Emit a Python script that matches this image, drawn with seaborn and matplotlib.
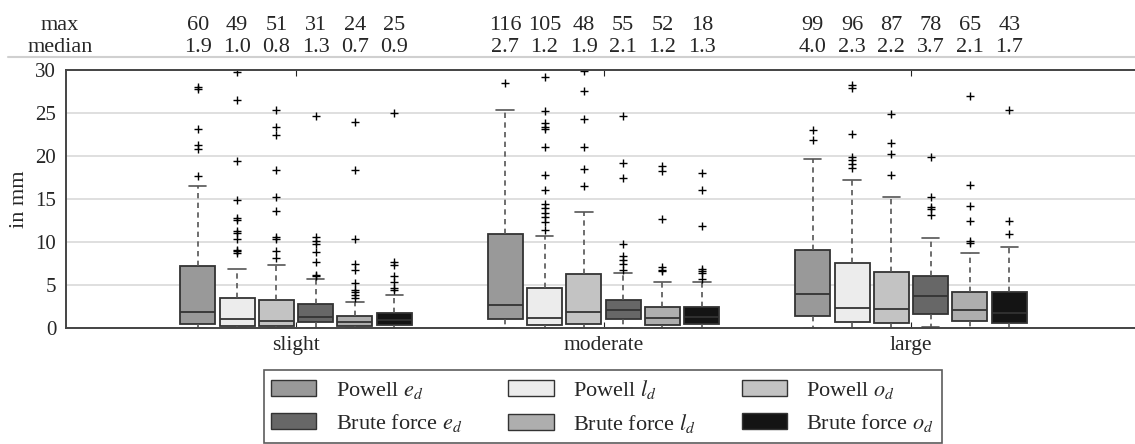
import numpy as np
import pandas as pd
import matplotlib
matplotlib.use("Agg")
import matplotlib.pyplot as plt
from matplotlib.patches import Patch
from matplotlib.lines import Line2D
from matplotlib.transforms import blended_transform_factory
import seaborn as sns

# ---------------- data ----------------
levels = ["slight", "moderate", "large"]
methods = ["Powell $e_d$", "Powell $l_d$", "Powell $o_d$",
           "Brute force $e_d$", "Brute force $l_d$", "Brute force $o_d$"]
colors = ["#999999", "#ececec", "#c3c3c3", "#676767", "#aeaeae", "#141414"]

max_slight = [60, 49, 51, 31, 24, 25]
max_moderate = [116, 105, 48, 55, 52, 18]
max_large = [99, 96, 87, 78, 65, 43]

med_slight = [1.9, 1.0, 0.8, 1.3, 0.7, 0.9]
med_moderate = [2.7, 1.2, 1.9, 2.1, 1.2, 1.3]
med_large = [4.0, 2.3, 2.2, 3.7, 2.1, 1.7]

q1_slight = [0.5, 0.2, 0.2, 0.66, 0.2, 0.3]
q1_moderate = [1.0, 0.3, 0.5, 1.1, 0.3, 0.45]
q1_large = [1.36, 0.7, 0.6, 1.6, 0.85, 0.6]

q3_slight = [7.2, 3.5, 3.2, 2.76, 1.4, 1.75]
q3_moderate = [10.9, 4.6, 6.3, 3.3, 2.45, 2.45]
q3_large = [9.05, 7.6, 6.5, 6.0, 4.2, 4.2]

wlo_slight = [0, 0, 0, 0, 0, 0]
wlo_moderate = [0, 0, 0, 0, 0, 0]
wlo_large = [0, 0, 0, 0.1, 0, 0]

whi_slight = [16.5, 6.9, 7.3, 5.67, 3.0, 3.85]
whi_moderate = [25.3, 10.7, 13.5, 6.4, 5.3, 5.3]
whi_large = [19.6, 17.2, 15.2, 10.5, 8.7, 9.4]

out_slight = [
    [17.7, 20.8, 21.3, 23.1, 27.8, 28.0],
    [8.7, 9.0, 9.1, 10.4, 11.0, 11.3, 12.6, 12.8, 14.9, 19.4, 26.5, 29.8],
    [8.1, 8.9, 10.4, 10.6, 13.6, 15.2, 18.4, 22.5, 23.4, 25.4],
    [6.0, 6.2, 7.7, 8.8, 9.8, 10.1, 10.6, 24.6],
    [3.5, 3.8, 4.2, 4.4, 5.2, 6.7, 7.5, 10.3, 18.4, 24.0],
    [4.4, 4.6, 5.4, 6.1, 7.3, 7.7, 25.0],
]
out_moderate = [
    [28.5],
    [11.4, 12.35, 12.9, 13.4, 13.9, 14.4, 16.0, 17.8, 21.1, 23.1, 23.4, 23.8, 25.2, 29.2],
    [16.5, 18.5, 21.1, 24.3, 27.6, 29.9],
    [6.8, 7.4, 7.9, 8.35, 9.75, 17.4, 19.15, 24.7],
    [6.6, 6.8, 7.1, 12.7, 18.3, 18.8],
    [5.7, 6.4, 6.6, 6.9, 11.85, 16.0, 18.0],
]
out_large = [
    [21.9, 23.0],
    [18.6, 19.1, 19.5, 19.9, 22.6, 27.9, 28.3],
    [17.8, 20.2, 21.5, 24.9],
    [13.1, 13.8, 14.1, 15.2, 19.9],
    [9.9, 10.1, 12.5, 14.2, 16.6, 27.0],
    [10.9, 12.5, 25.4],
]

stats = {
    "slight": (wlo_slight, q1_slight, med_slight, q3_slight, whi_slight, out_slight, max_slight),
    "moderate": (wlo_moderate, q1_moderate, med_moderate, q3_moderate, whi_moderate, out_moderate, max_moderate),
    "large": (wlo_large, q1_large, med_large, q3_large, whi_large, out_large, max_large),
}

# Build samples whose box statistics equal the values read above
K = 41
rows = []
for lev in levels:
    wlo, q1, med, q3, whi, outs, mx = stats[lev]
    for j, m in enumerate(methods):
        high = [whi[j]] + list(outs[j])
        if mx[j] > max(high):
            high.append(mx[j])
        sample = [wlo[j]] * len(high) + [q1[j]] * K + [med[j]] * K + [q3[j]] * K + high
        for v in sample:
            rows.append((lev, m, v))
df = pd.DataFrame(rows, columns=["level", "method", "value"])

# ---------------- style ----------------
sns.set_style("white")
plt.rcParams["font.family"] = ["Liberation Serif", "DejaVu Serif"]
plt.rcParams["mathtext.fontset"] = "stix"
FS_TOP = 16
FS_TICK = 15
FS_LEG = 16

W, H = 1135, 444
fig = plt.figure(figsize=(W / 100, H / 100), dpi=100)
ax = fig.add_axes([66 / W, 1 - 328 / H, (1141 - 66) / W, (328 - 70) / H])

box_width = 0.767
sns.boxplot(
    data=df, x="level", y="value", hue="method", order=levels, hue_order=methods,
    palette=colors, saturation=1, width=box_width, gap=0.11, whis=1.5,
    linecolor="#333333", linewidth=1.3,
    whiskerprops={"linestyle": (0, (3.2, 2.6)), "color": "#555555", "linewidth": 1.2},
    capprops={"color": "#555555", "linewidth": 1.2},
    medianprops={"color": "#333333", "linewidth": 1.3},
    flierprops={"marker": "+", "markeredgecolor": "black", "markersize": 5.5,
                "markeredgewidth": 1.0},
    legend=False, ax=ax,
)

ax.set_xlim(-0.748, 2.748)
ax.set_ylim(0, 30)
ax.set_yticks([0, 5, 10, 15, 20, 25, 30])
ax.grid(axis="y", color="#d9d9d9", linewidth=1.2)
ax.set_axisbelow(True)
ax.set_xlabel("")
ax.set_ylabel("in mm", fontsize=FS_TOP)
ax.yaxis.set_label_coords((29 - 66) / (1141 - 66), 0.5)
for s in ["left", "top", "bottom"]:
    ax.spines[s].set_visible(True)
    ax.spines[s].set_color("#444444")
    ax.spines[s].set_linewidth(1.4)
ax.spines["right"].set_visible(False)
ax.tick_params(axis="y", length=0, pad=7, labelsize=FS_TICK)
ax.tick_params(axis="x", direction="in", top=True, bottom=True, length=4,
               color="#222222", labelsize=FS_TICK + 0.5, pad=6)

# statistics rows above the plot
trans = blended_transform_factory(ax.transData, fig.transFigure)
y_max = 1 - 29.5 / H
y_med = 1 - 52 / H
fig.text(60 / W, y_max, "max", ha="center", va="baseline", fontsize=FS_TOP)
fig.text(60 / W, y_med, "median", ha="center", va="baseline", fontsize=FS_TOP)
slot = box_width / len(methods)
for g, lev in enumerate(levels):
    _, _, med, _, _, _, mx = stats[lev]
    for j in range(len(methods)):
        xpos = g + (j - (len(methods) - 1) / 2) * slot
        ax.text(xpos, y_max, f"{mx[j]}", transform=trans, ha="center", va="baseline", fontsize=FS_TOP)
        ax.text(xpos, y_med, f"{med[j]:.1f}", transform=trans, ha="center", va="baseline", fontsize=FS_TOP)

fig.add_artist(Line2D([8 / W, 1.0], [1 - 57 / H] * 2, color="#d0d0d0", linewidth=1.5))

# legend
handles = [Patch(facecolor=c, edgecolor="#333333", linewidth=1.0, label=m)
           for c, m in zip(colors, methods)]
order = [0, 3, 1, 4, 2, 5]
leg = fig.legend(
    handles=[handles[i] for i in order], loc="upper left",
    bbox_to_anchor=(263.5 / W, 1 - 370 / H), ncol=3, fontsize=FS_LEG,
    frameon=True, fancybox=False, edgecolor="#333333",
    handlelength=2.03, handleheight=0.75, handletextpad=0.86,
    columnspacing=2.1, labelspacing=0.5, borderpad=0.35, borderaxespad=0,
)
leg.get_frame().set_linewidth(1.2)

fig.savefig("out.png", dpi=100)
